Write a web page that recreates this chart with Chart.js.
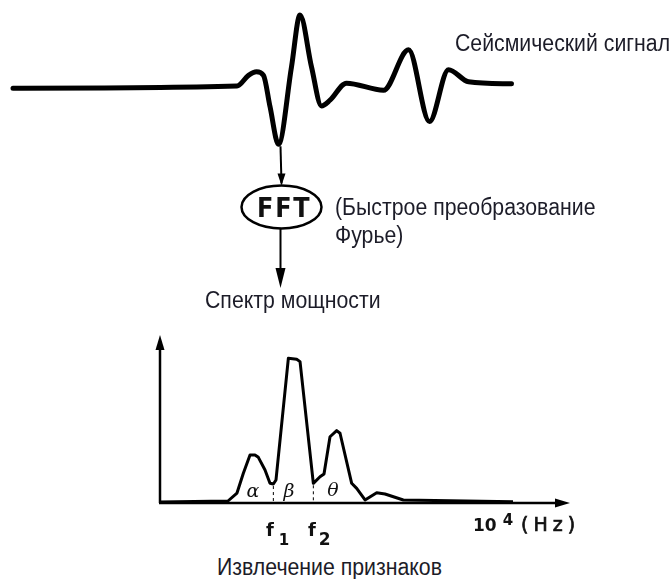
<!DOCTYPE html>
<html><head><meta charset="utf-8">
<script src="https://cdn.jsdelivr.net/npm/chart.js@4/dist/chart.umd.min.js"></script>
<style>
html,body{margin:0;padding:0;background:#fff;}
#wrap{position:relative;width:670px;height:579px;overflow:hidden;background:#fff;}
canvas{position:absolute;}
.t{position:absolute;white-space:nowrap;font-family:"Liberation Sans",Arial,sans-serif;font-size:23px;color:#1c1c28;line-height:1;transform:scaleX(0.925);transform-origin:0 0;}
.d{position:absolute;white-space:nowrap;font-family:"DejaVu Sans",sans-serif;color:#111;line-height:1;}
.g{position:absolute;white-space:nowrap;font-family:"DejaVu Serif",serif;font-style:italic;font-size:19px;color:#111;line-height:1;transform:translate(-50%,-50%);}
</style></head>
<body><div id="wrap">
<canvas id="top" width="670" height="300" style="left:0;top:0"></canvas>
<canvas id="bot" width="460" height="200" style="left:140px;top:320px"></canvas>
<div class="t" style="left:455px;top:32px">Сейсмический сигнал</div>
<div class="d" style="left:257px;top:195px;font-size:26px;font-weight:bold;letter-spacing:2px;transform:scaleX(0.92);transform-origin:0 0">FFT</div>
<div class="t" style="left:335px;top:196px">(Быстрое преобразование</div>
<div class="t" style="left:335px;top:224px">Фурье)</div>
<div class="t" style="left:205px;top:289px">Спектр мощности</div>
<div class="t" style="left:217px;top:556px">Извлечение признаков</div>
<div class="g" style="left:253px;top:490px">α</div>
<div class="g" style="left:289px;top:490px">β</div>
<div class="g" style="left:333px;top:489px">θ</div>
<div class="d" style="left:266px;top:521px;font-size:18px;font-weight:bold">f<span style="font-size:15px;position:relative;top:9px;margin-left:5px">1</span></div>
<div class="d" style="left:308px;top:521px;font-size:18px;font-weight:bold">f<span style="font-size:17px;position:relative;top:9px;margin-left:3px">2</span></div>
<div class="d" style="left:473px;top:515px;font-size:17px;font-weight:bold;letter-spacing:0px">10<span style="font-size:15px;position:relative;top:-6px;margin-left:6px">4</span><span style="margin-left:8px;letter-spacing:5px;font-size:19px;font-weight:normal;-webkit-text-stroke:0.7px #111">(Hz)</span></div>
</div>
<script>
// Seismic signal (time units, relative amplitude)
const signalTime = [0, 44.8, 47.1, 48.7, 50.1, 51.4, 53.1, 55.7, 57.4, 59.7, 61.7, 63.4, 66.7, 74.1, 79.1, 83.3, 87.1, 91.1, 99.7];
const signalAmp  = [-0.03, 0.0, 0.15, 0.20, 0.15, -0.29, -0.82, 0.27, 1.0, 0.27, -0.28, -0.20, 0.04, -0.06, 0.51, -0.50, 0.23, 0.06, 0.03];

// Power spectrum (Hz, relative power)
const freqHz = [0, 1926, 2181, 2361, 2550, 2691, 2786, 2975, 3116, 3211, 3286, 3636, 3872, 3967, 4344, 4533, 4646, 4816, 5005, 5100, 5430, 5572, 5808, 6139, 6374, 6893, 10000];
const power  = [0.007, 0.014, 0.069, 0.205, 0.331, 0.331, 0.315, 0.228, 0.136, 0.131, 0.159, 0.998, 0.991, 0.975, 0.136, 0.181, 0.20, 0.457, 0.499, 0.481, 0.136, 0.101, 0.021, 0.071, 0.062, 0.021, 0.009];

// Band edges f1, f2
const bandEdges = [3211, 4344];

function zip(xs, ys){ return xs.map((x,i)=>({x:x,y:ys[i]})); }

function arrowHead(ctx, x, y, dx, dy, len, half){
  const px = -dy, py = dx;
  ctx.beginPath();
  ctx.moveTo(x, y);
  ctx.lineTo(x - dx*len + px*half, y - dy*len + py*half);
  ctx.lineTo(x - dx*len - px*half, y - dy*len - py*half);
  ctx.closePath();
  ctx.fill();
}

const flowPlugin = {
  id:'flow',
  afterDatasetsDraw(chart){
    const ctx = chart.ctx;
    const xs = chart.scales.x, ys = chart.scales.y;
    let mi = 0;
    signalAmp.forEach((v,i)=>{ if(v < signalAmp[mi]) mi = i; });
    const tx = xs.getPixelForValue(signalTime[mi]) + 2;
    const ty = ys.getPixelForValue(signalAmp[mi]);
    const cx = tx + 1, cy = 207, rx = 40, ry = 21.5;
    ctx.save();
    ctx.strokeStyle = '#000'; ctx.fillStyle = '#000';
    ctx.lineWidth = 2;
    ctx.beginPath(); ctx.moveTo(tx, ty + 2); ctx.lineTo(cx, cy - ry - 2); ctx.stroke();
    arrowHead(ctx, cx, cy - ry, 0, 1, 12, 4);
    ctx.lineWidth = 2.5;
    ctx.beginPath(); ctx.ellipse(cx, cy, rx, ry, 0, 0, Math.PI*2); ctx.stroke();
    ctx.lineWidth = 2;
    ctx.beginPath(); ctx.moveTo(cx - 1, cy + ry); ctx.lineTo(cx - 1, 280); ctx.stroke();
    arrowHead(ctx, cx - 1, 288, 0, 1, 20, 5);
    ctx.restore();
  }
};

new Chart(document.getElementById('top'), {
  type:'line',
  data:{ datasets:[{ data: zip(signalTime, signalAmp), borderColor:'#000', borderWidth:5, pointRadius:0, cubicInterpolationMode:'monotone', clip:false, borderCapStyle:'round', borderJoinStyle:'round' }]},
  options:{
    responsive:false, animation:false, events:[],
    layout:{padding:0},
    plugins:{legend:{display:false}, tooltip:{enabled:false}},
    scales:{
      x:{type:'linear', display:false, min:-2.6, max:131.4},
      y:{type:'linear', display:false, min:-3.0141, max:1.2113}
    }
  },
  plugins:[flowPlugin]
});

const axesPlugin = {
  id:'axes',
  beforeDatasetsDraw(chart){
    const ctx = chart.ctx;
    const xs = chart.scales.x, ys = chart.scales.y;
    const x0 = xs.getPixelForValue(0), y0 = ys.getPixelForValue(0);
    const xEnd = xs.getPixelForValue(11615), yEnd = ys.getPixelForValue(1.159);
    ctx.save();
    ctx.strokeStyle = '#000'; ctx.fillStyle = '#000'; ctx.lineWidth = 2.5;
    ctx.beginPath(); ctx.moveTo(x0, y0); ctx.lineTo(x0, yEnd + 10); ctx.stroke();
    ctx.beginPath(); ctx.moveTo(x0 - 1, y0); ctx.lineTo(xEnd - 10, y0); ctx.stroke();
    arrowHead(ctx, x0, yEnd, 0, -1, 15, 4.5);
    arrowHead(ctx, xEnd, y0, 1, 0, 15, 4.5);
    ctx.lineWidth = 1; ctx.setLineDash([3,3]);
    bandEdges.forEach(f=>{
      const i = freqHz.indexOf(f);
      const px = xs.getPixelForValue(f);
      ctx.beginPath(); ctx.moveTo(px, ys.getPixelForValue(power[i]) + 2); ctx.lineTo(px, y0); ctx.stroke();
    });
    ctx.restore();
  }
};

new Chart(document.getElementById('bot'), {
  type:'line',
  data:{ datasets:[{ data: zip(freqHz, power), borderColor:'#000', borderWidth:3, pointRadius:0, tension:0, clip:false, borderJoinStyle:'round' }]},
  options:{
    responsive:false, animation:false, events:[],
    layout:{padding:0},
    plugins:{legend:{display:false}, tooltip:{enabled:false}},
    scales:{
      x:{type:'linear', display:false, min:-566.6, max:12464.6},
      y:{type:'linear', display:false, min:-0.117, max:1.262}
    }
  },
  plugins:[axesPlugin]
});
</script>
</body></html>
